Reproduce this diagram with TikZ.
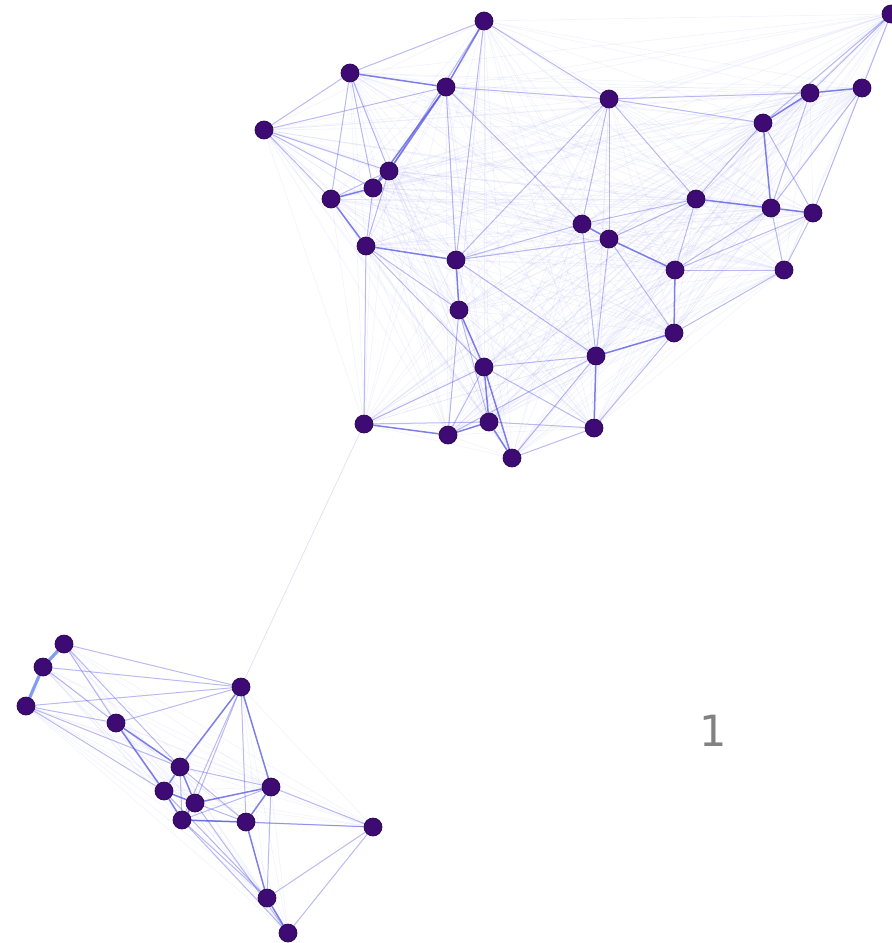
\documentclass[tikz,border=0pt]{standalone}
\usepackage{fontspec}
\newfontfamily\labfont{DejaVu Sans}
\usetikzlibrary{backgrounds}
\definecolor{edgecol}{RGB}{80,80,225}
\definecolor{nodecol}{RGB}{62,10,115}
\definecolor{labcol}{RGB}{130,130,130}
\begin{document}
\begin{tikzpicture}[x=1pt,y=-1pt,
  vert/.style={circle,fill=nodecol,draw=nodecol!70!black,line width=0.7pt,inner sep=0pt,minimum size=18pt},
  faintedge/.style={draw=edgecol,opacity=0.065,line width=0.7pt},
  midedge/.style={draw=edgecol,opacity=0.36,line width=1pt},
  strongedge/.style={draw=edgecol,opacity=0.72,line width=1.5pt},
  thickedge/.style={draw=edgecol!85!cyan,opacity=0.65,line width=3.2pt},
  bridgeedge/.style={draw=edgecol,opacity=0.18,line width=0.7pt}]
\useasboundingbox (0,0) rectangle (892,943);
% upper cluster
\foreach \n/\x/\y in {1/484/21,2/350/73,3/446/87,4/264/130,5/389/171,6/373/188,7/331/199,
  8/366/246,9/456/260,10/459/310,11/484/367,12/364/424,13/448/435,14/489/422,15/512/458,
  16/594/428,17/596/356,18/674/333,19/675/270,20/609/99,21/582/224,22/609/239,23/696/199,
  24/771/208,25/813/213,26/784/270,27/763/123,28/810/93,29/862/88,30/891/14}
  \node[vert] (A\n) at (\x,\y) {};
% lower cluster
\foreach \n/\x/\y in {1/64/644,2/43/667,3/26/706,4/116/723,5/241/687,6/180/767,7/164/791,
  8/195/803,9/271/787,10/182/820,11/246/822,12/373/827,13/267/898,14/288/933}
  \node[vert] (B\n) at (\x,\y) {};
\node[text=labcol,font=\labfont\fontsize{43}{43}\selectfont] (lab) at (713,731) {1};
\begin{pgfonlayer}{background}
\foreach \i in {1,...,30}{\foreach \j in {1,...,30}{\ifnum\i<\j \draw[faintedge] (A\i) -- (A\j);\fi}}
\foreach \i in {1,...,14}{\foreach \j in {1,...,14}{\ifnum\i<\j \draw[faintedge] (B\i) -- (B\j);\fi}}
\draw[bridgeedge] (A12) -- (B5);
\foreach \a/\b in {1/2,1/20,2/4,2/5,2/6,2/7,4/7,4/6,4/5,4/3,3/9,3/20,3/21,5/7,6/8,5/8,
  20/21,20/22,20/23,20/27,20/28,27/23,27/25,29/30,28/30,27/30,29/25,29/24,28/24,
  23/19,24/26,25/26,23/22,23/21,22/18,17/22,17/21,18/26,19/26,8/12,11/16,12/14,10/13,
  9/21,10/14,11/13,15/16,8/10,11/17,14/16,16/18,8/11,12/11,13/17,9/17,15/17,9/22,
  1/5,1/9,24/19,25/19,20/9}
  \draw[midedge] (A\a) -- (A\b);
\foreach \a/\b in {1/3,2/3,3/5,3/6,5/6,6/7,7/8,21/22,22/19,19/18,23/24,24/25,27/28,
  28/29,27/24,9/10,10/11,13/12,14/15,11/15,16/17,17/18,8/9,11/14,13/14}
  \draw[strongedge] (A\a) -- (A\b);
\foreach \a/\b in {1/4,2/4,3/4,1/5,2/5,3/5,4/5,5/8,5/11,5/10,9/12,11/12,10/12,12/13,
  12/14,9/13,10/13,10/14,6/9,6/11,7/13,8/14,3/6,3/7,1/6,6/10,8/11,9/10}
  \draw[midedge] (B\a) -- (B\b);
\foreach \a/\b in {5/6,6/8,6/7,7/8,8/10,7/10,8/9,9/11,11/10,11/13,13/14,4/6,4/7,5/9}
  \draw[strongedge] (B\a) -- (B\b);
\draw[thickedge] (B1) -- (B2);
\draw[thickedge] (B2) -- (B3);
\end{pgfonlayer}
\end{tikzpicture}
\end{document}
